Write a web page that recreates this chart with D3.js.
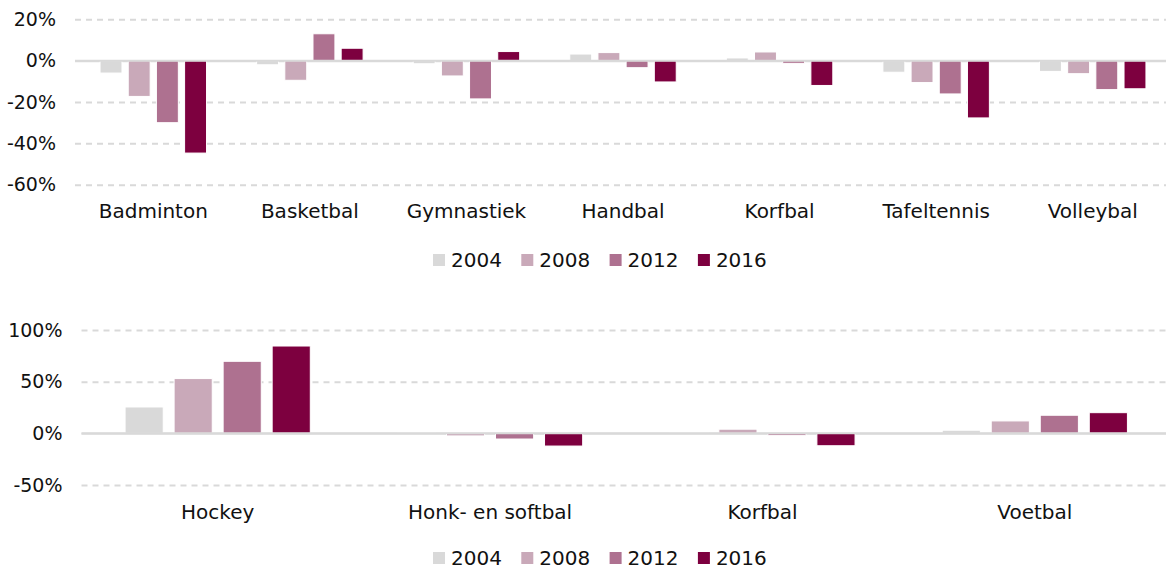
<!DOCTYPE html>
<html lang="nl">
<head>
<meta charset="utf-8">
<title>Sportdeelname per sport</title>
<script src="https://cdn.jsdelivr.net/npm/d3@7"></script>
<style>
  body { margin: 0; background: #fff; }
  svg { display: block; }
  svg text { font-family: "DejaVu Sans", sans-serif; fill: #111; }
</style>
</head>
<body>
<div id="chart"></div>
<script>
// series, years and colours
var years = ["2004", "2008", "2012", "2016"];
var colors = ["#d9d9d9", "#c9a9b9", "#ae7190", "#7d003f"];

// top panel: indoor sports
var topCats = ["Badminton", "Basketbal", "Gymnastiek", "Handbal", "Korfbal", "Tafeltennis", "Volleybal"];
var top2004 = [-6, -2, -1.5, 3.2, 1.3, -5.6, -5.2];
var top2008 = [-17.3, -9.5, -7.4, 3.9, 4.2, -10.6, -6.3];
var top2012 = [-30, 13, -18.5, -3.4, -1.3, -16.1, -14];
var top2016 = [-44.7, 6, 4.4, -10.3, -12, -27.7, -13.6];
var topTicks = [20, 0, -20, -40, -60];

// bottom panel: field sports
var botCats = ["Hockey", "Honk- en softbal", "Korfbal", "Voetbal"];
var bot2004 = [25.5, 0.5, 0.5, 3];
var bot2008 = [53, -2.5, 4, 12];
var bot2012 = [69.7, -5.5, -1.9, 17.5];
var bot2016 = [84.5, -12.3, -12, 20];
var botTicks = [100, 50, 0, -50];

var W = 1166, H = 572;
var svg = d3.select("#chart").append("svg")
  .attr("width", W)
  .attr("height", H);

function panel(cfg) {
  var series = cfg.series;
  var rows = cfg.cats.map(function (c, i) {
    return { cat: c, vals: years.map(function (y, j) { return { year: y, idx: j, v: series[j][i] }; }) };
  });

  var x0 = d3.scaleBand().domain(cfg.cats).range([cfg.left, cfg.right]).padding(0);
  var bw = x0.bandwidth();
  var x1 = d3.scaleBand().domain(years)
    .range([0.16 * bw, 0.84 * bw])
    .paddingInner(0.222).paddingOuter(0);

  var y = d3.scaleLinear().domain(cfg.domain).range(cfg.yrange);

  var g = svg.append("g");

  // grid + tick labels
  var yAxis = d3.axisLeft(y)
    .tickValues(cfg.ticks)
    .tickFormat(function (d) { return d + "%"; })
    .tickSizeInner(-(W - cfg.left))
    .tickSizeOuter(0)
    .tickPadding(cfg.tickPad);

  var ay = g.append("g")
    .attr("transform", "translate(" + cfg.left + ",0)")
    .call(yAxis)
    .attr("font-family", null);
  ay.select(".domain").remove();
  ay.selectAll(".tick line")
    .attr("stroke", "#d9d9d9")
    .attr("stroke-width", 2)
    .attr("stroke-dasharray", function (d) { return d === 0 ? null : "6,5"; });
  ay.selectAll(".tick text")
    .attr("font-size", 19);

  // bars
  var grp = g.selectAll(".grp").data(rows).enter().append("g")
    .attr("transform", function (d) { return "translate(" + x0(d.cat) + ",0)"; });

  grp.selectAll("rect").data(function (d) { return d.vals; }).enter().append("rect")
    .attr("x", function (d) { return x1(d.year); })
    .attr("width", x1.bandwidth())
    .attr("y", function (d) { return y(Math.max(0, d.v)); })
    .attr("height", function (d) { return Math.abs(y(d.v) - y(0)); })
    .attr("fill", function (d) { return colors[d.idx]; })
    .attr("stroke", "#fff")
    .attr("stroke-width", 1);

  // zero line on top
  g.append("line")
    .attr("x1", cfg.left).attr("x2", W)
    .attr("y1", y(0)).attr("y2", y(0))
    .attr("stroke", "#d9d9d9")
    .attr("stroke-width", 2);

  // category labels
  var ax = g.append("g")
    .attr("transform", "translate(0," + cfg.labelY + ")")
    .call(d3.axisBottom(x0).tickSize(0).tickPadding(0))
    .attr("font-family", null);
  ax.select(".domain").remove();
  ax.selectAll(".tick text")
    .attr("font-size", 20)
    .attr("dy", "0.35em");

  // legend
  var lg = g.append("g").attr("transform", "translate(433," + cfg.legendY + ")");
  var item = lg.selectAll("g").data(years).enter().append("g")
    .attr("transform", function (d, i) { return "translate(" + (i * 88.3) + ",0)"; });
  item.append("rect")
    .attr("x", 0).attr("y", -6)
    .attr("width", 12).attr("height", 12)
    .attr("fill", function (d, i) { return colors[i]; });
  item.append("text")
    .attr("x", 18).attr("y", 0)
    .attr("dy", "0.35em")
    .attr("font-size", 20)
    .text(function (d) { return d; });
}

panel({
  cats: topCats,
  series: [top2004, top2008, top2012, top2016],
  left: 75, right: 1171,
  domain: [-60, 20], yrange: [184.7, 19.3],
  ticks: topTicks, tickPad: 19,
  labelY: 211, legendY: 260
});

panel({
  cats: botCats,
  series: [bot2004, bot2008, bot2012, bot2016],
  left: 81.5, right: 1171,
  domain: [-50, 100], yrange: [485, 330],
  ticks: botTicks, tickPad: 19,
  labelY: 512, legendY: 558
});
</script>
</body>
</html>
